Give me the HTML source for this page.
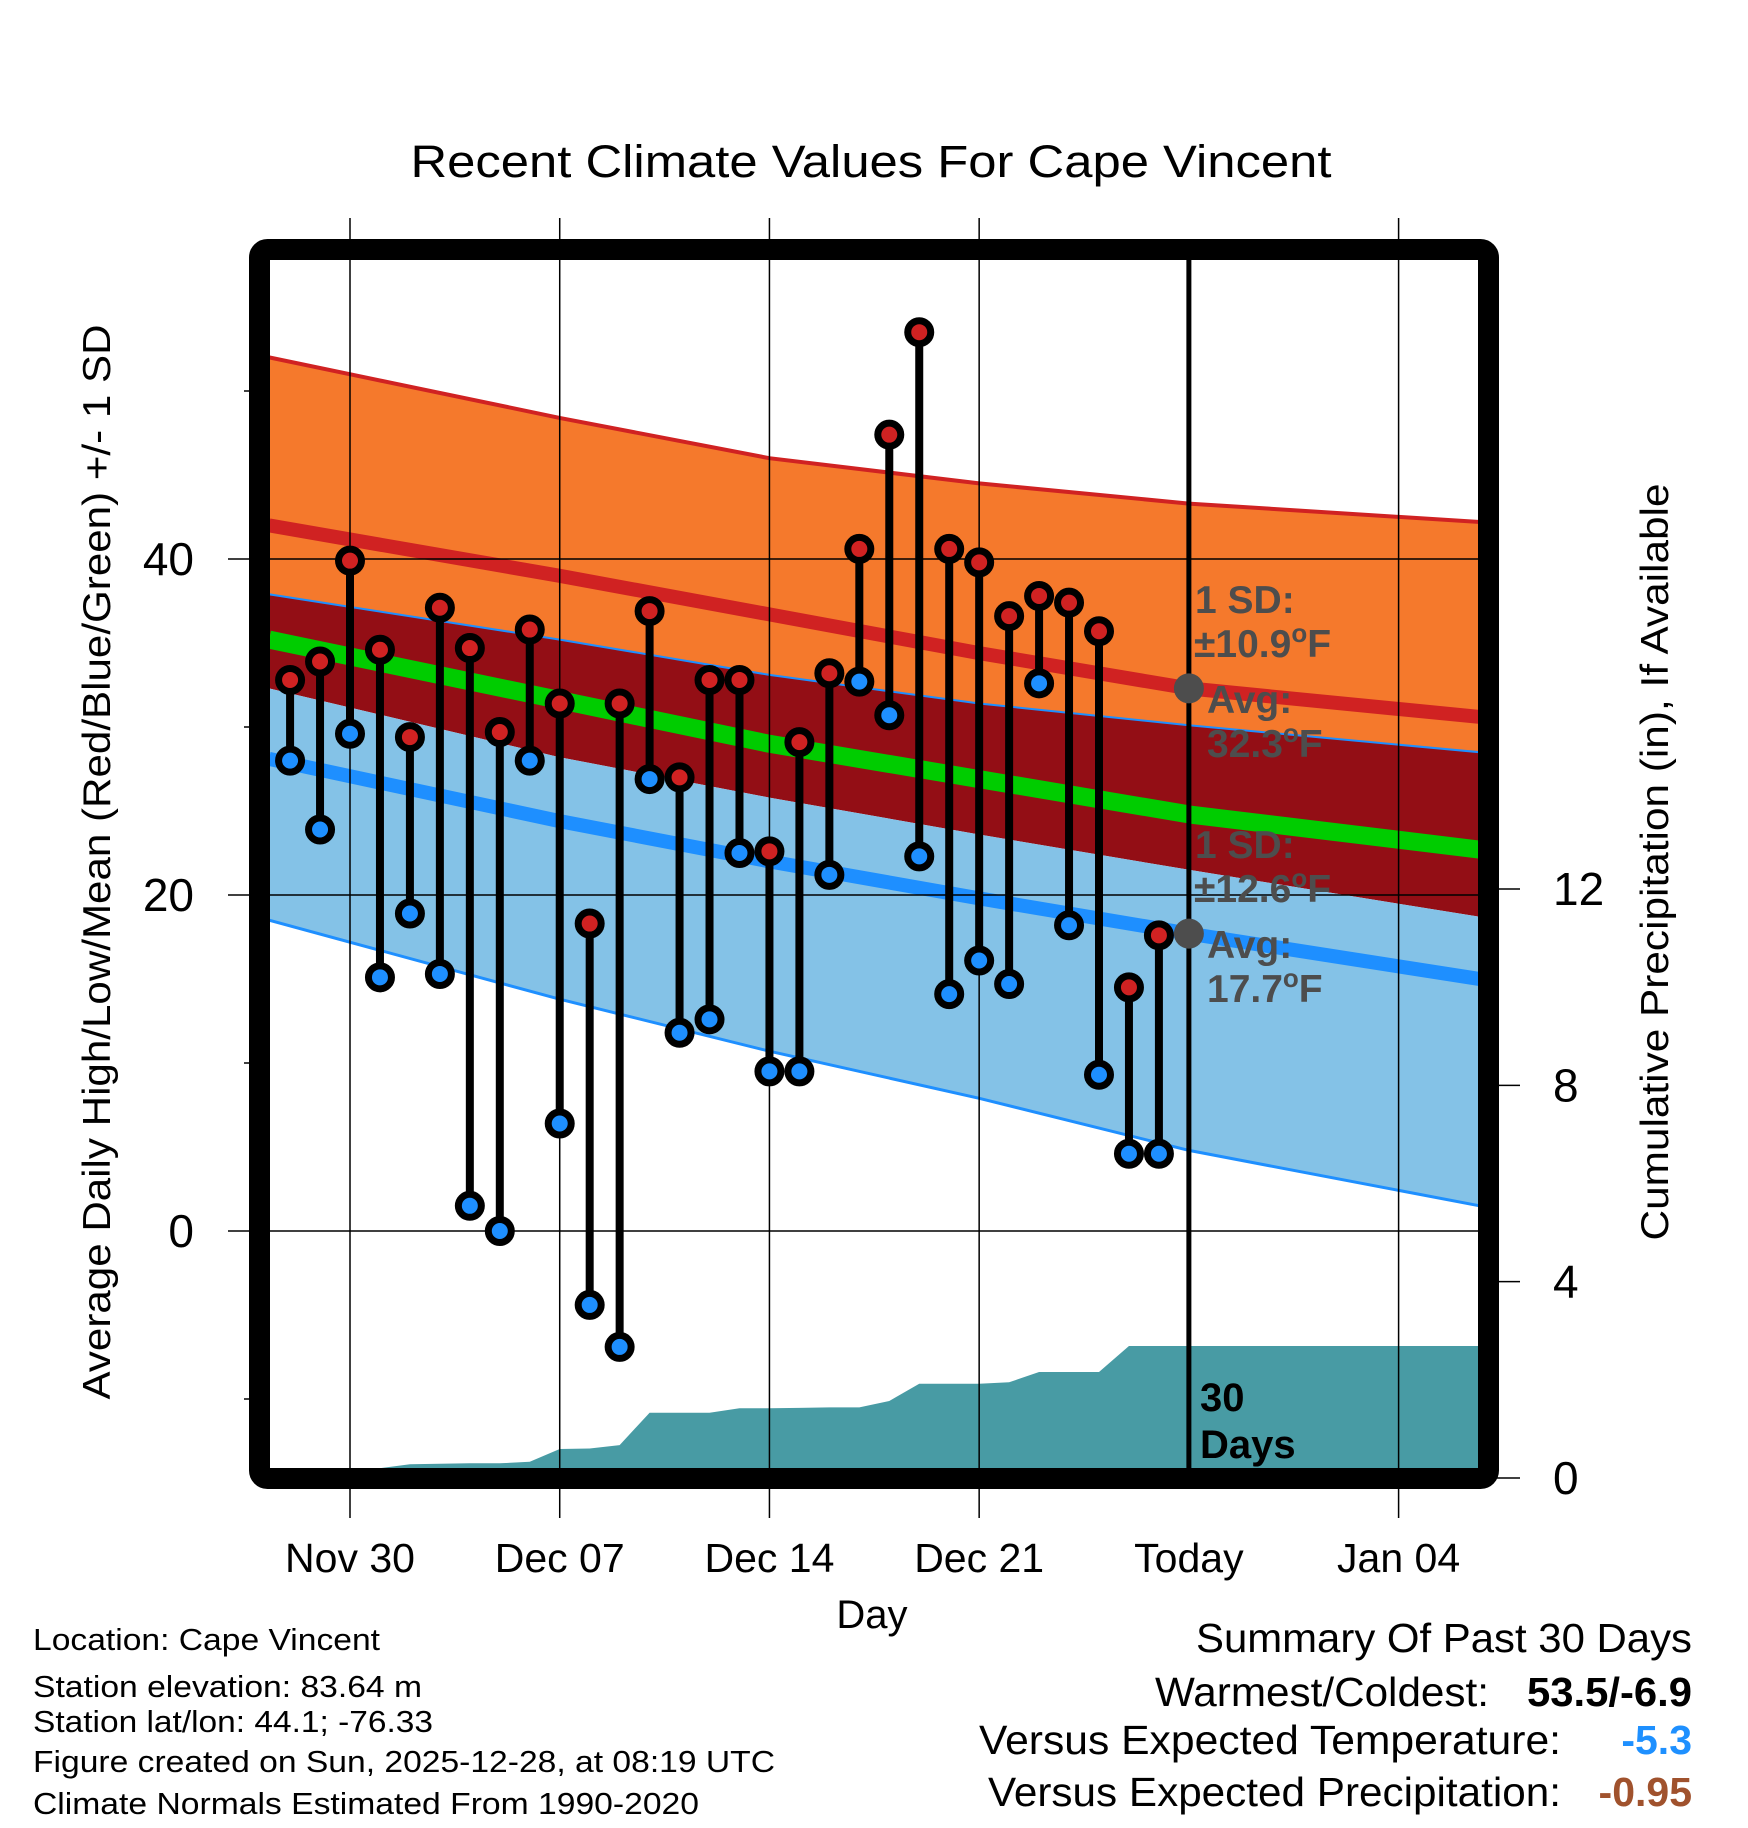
<!DOCTYPE html>
<html><head><meta charset="utf-8"><title>Recent Climate Values For Cape Vincent</title>
<style>html,body{margin:0;padding:0;background:#fff}svg{display:block}text{font-family:"Liberation Sans",Arial,sans-serif}</style></head>
<body>
<svg id="chart" width="1748" height="1828" viewBox="0 0 1748 1828" xmlns="http://www.w3.org/2000/svg">
<defs><clipPath id="plotclip"><rect x="270" y="260" width="1208" height="1208"/></clipPath></defs>
<text x="871" y="177" font-size="45" text-anchor="middle" textLength="921" lengthAdjust="spacingAndGlyphs">Recent Climate Values For Cape Vincent</text>
<g id="fills" clip-path="url(#plotclip)"></g>
<g id="grid"></g>
<g id="series" clip-path="url(#plotclip)"></g>
<g id="annot"></g>
<rect x="259.5" y="249.5" width="1229" height="1229" rx="8" fill="none" stroke="#000" stroke-width="21"/>
<g id="axes"></g>
<text transform="translate(110,862) rotate(-90)" font-size="39" text-anchor="middle" textLength="1075" lengthAdjust="spacingAndGlyphs">Average Daily High/Low/Mean (Red/Blue/Green) +/- 1 SD</text>
<text transform="translate(1668,862) rotate(-90)" font-size="39" text-anchor="middle" textLength="757" lengthAdjust="spacingAndGlyphs">Cumulative Precipitation (in), If Available</text>
<text x="872" y="1628" font-size="40" text-anchor="middle">Day</text>
<g font-size="31">
<text x="33" y="1650" textLength="347" lengthAdjust="spacingAndGlyphs">Location: Cape Vincent</text>
<text x="33" y="1697" textLength="389" lengthAdjust="spacingAndGlyphs">Station elevation: 83.64 m</text>
<text x="33" y="1732" textLength="400" lengthAdjust="spacingAndGlyphs">Station lat/lon: 44.1; -76.33</text>
<text x="33" y="1772" textLength="742" lengthAdjust="spacingAndGlyphs">Figure created on Sun, 2025-12-28, at 08:19 UTC</text>
<text x="33" y="1814" textLength="666" lengthAdjust="spacingAndGlyphs">Climate Normals Estimated From 1990-2020</text>
</g>
<g font-size="41">
<text x="1692" y="1652" text-anchor="end" textLength="496" lengthAdjust="spacingAndGlyphs">Summary Of Past 30 Days</text>
<text x="1489" y="1706" text-anchor="end" textLength="334" lengthAdjust="spacingAndGlyphs">Warmest/Coldest:</text>
<text x="1692" y="1706" text-anchor="end" font-weight="bold" textLength="165" lengthAdjust="spacingAndGlyphs">53.5/-6.9</text>
<text x="1561" y="1754" text-anchor="end" textLength="582" lengthAdjust="spacingAndGlyphs">Versus Expected Temperature:</text>
<text x="1692" y="1754" text-anchor="end" font-weight="bold" fill="#1e90ff">-5.3</text>
<text x="1561" y="1806" text-anchor="end" textLength="573" lengthAdjust="spacingAndGlyphs">Versus Expected Precipitation:</text>
<text x="1692" y="1806" text-anchor="end" font-weight="bold" fill="#a0522d">-0.95</text>
</g>
</svg>
<script>
// ---- data ----
const dayOffsets = [-2,-1,0,1,2,3,4,5,6,7,8,9,10,11,12,13,14,15,16,17,18,19,20,21,22,23,24,25,26,27];
const highs = [32.8,33.9,39.9,34.6,29.4,37.1,34.7,29.7,35.8,31.4,18.3,31.4,36.9,27.0,32.8,32.8,22.6,29.1,33.2,40.6,47.4,53.5,40.6,39.8,36.6,37.8,37.4,35.7,14.5,17.6];
const lows = [28.0,23.9,29.6,15.1,18.9,15.3,1.5,0.0,28.0,6.4,-4.4,-6.9,26.9,11.8,12.6,22.5,9.5,9.5,21.2,32.7,30.7,22.3,14.1,16.1,14.7,32.6,18.2,9.3,4.6,4.6];
const precip = [0,0,0,0.2,0.28,0.29,0.3,0.3,0.33,0.59,0.6,0.67,1.33,1.33,1.33,1.42,1.42,1.43,1.44,1.44,1.57,1.92,1.92,1.92,1.95,2.16,2.16,2.16,2.69,2.69];
const normDays = [-2.7,7,14,21,28,37.7];
const sdHighTop = [52.0,48.4,46.0,44.5,43.3,42.2];
const avgHigh = [42.0,39.0,36.7,34.4,32.3,30.6];
const sdLowTop = [37.9,35.2,33.1,31.4,30.1,28.5];
const avgMean = [35.2,31.6,29.0,26.9,24.8,22.7];
const sdHighBottom = [32.3,28.2,25.8,23.6,21.5,18.7];
const avgLow = [28.1,24.4,22.0,19.8,17.7,15.0];
const sdLowBottom = [18.5,13.8,10.7,7.9,4.8,1.5];
const xTickDays = [0,7,14,21,28,35];
const xTickLabels = ["Nov 30","Dec 07","Dec 14","Dec 21","Today","Jan 04"];
const yTicks = [0,20,40];
const yMinor = [-10,10,30,50];
const pTicks = [0,4,8,12];

// ---- scales ----
const X = d => 350 + d*29.96;
const Y = v => 1231 - v*16.8;
const P = p => 1478 - p*49.08;
const NS = "http://www.w3.org/2000/svg";
function mk(tag, attrs, parent){const e=document.createElementNS(NS,tag);for(const k in attrs)e.setAttribute(k,attrs[k]);parent.appendChild(e);return e;}
const pts = arr => normDays.map((d,i)=>X(d).toFixed(1)+","+Y(arr[i]).toFixed(1));
const band = (a,b) => pts(a).concat(pts(b).reverse()).join(" ");
const fills = document.getElementById("fills");
const grid = document.getElementById("grid");
const series = document.getElementById("series");
const axes = document.getElementById("axes");
const annot = document.getElementById("annot");

let e;
e = mk("polygon",{points:band(sdHighTop,sdLowTop),fill:"#f5792c"},fills);


e = mk("polygon",{points:band(sdLowTop,sdHighBottom),fill:"#930e15"},fills);


e = mk("polygon",{points:band(sdHighBottom,sdLowBottom),fill:"#84c2e7"},fills);


const pp = [X(-3)+","+P(0)];
dayOffsets.forEach((d,i)=>pp.push(X(d)+","+P(precip[i])));
pp.push(X(40)+","+P(precip[precip.length-1]));
pp.push(X(40)+","+P(0));
e = mk("polygon",{points:pp.join(" "),fill:"#489ba4"},fills);


e = mk("polyline",{points:pts(sdHighTop).join(" "),fill:"none",stroke:"#d02222","stroke-width":4},fills);


e = mk("polyline",{points:pts(sdLowTop).join(" "),fill:"none",stroke:"#1e8fff","stroke-width":2},fills);


e = mk("polyline",{points:pts(sdLowBottom).join(" "),fill:"none",stroke:"#1e8fff","stroke-width":3},fills);


e = mk("polyline",{points:pts(avgHigh).join(" "),fill:"none",stroke:"#d02222","stroke-width":14,"stroke-linejoin":"round"},fills);


e = mk("polyline",{points:pts(avgMean).join(" "),fill:"none",stroke:"#00cc00","stroke-width":18,"stroke-linejoin":"round"},fills);


e = mk("polyline",{points:pts(avgLow).join(" "),fill:"none",stroke:"#1e8fff","stroke-width":14,"stroke-linejoin":"round"},fills);



xTickDays.forEach((d,i)=>{
  const g = mk("line",{x1:X(d),x2:X(d),y1:218,y2:1518,stroke:"#000","stroke-width":d===28?0:1.5},grid);
  
  
  const t = mk("text",{x:X(d),y:1572,"font-size":41,"text-anchor":"middle"},axes);
  t.textContent = xTickLabels[i];
  
  
});
yTicks.forEach(v=>{
  const g = mk("line",{x1:228,x2:1478,y1:Y(v),y2:Y(v),stroke:"#000","stroke-width":1.5},grid);
  
  
  const t = mk("text",{x:194,y:Y(v)+16,"font-size":46,"text-anchor":"end"},axes);
  t.textContent = v;
  
  
});
yMinor.forEach(v=>{
  const g = mk("line",{x1:244,x2:260,y1:Y(v),y2:Y(v),stroke:"#000","stroke-width":1.5},axes);
  
  
});
pTicks.forEach(v=>{
  const g = mk("line",{x1:1490,x2:1520,y1:P(v),y2:P(v),stroke:"#000","stroke-width":1.5},axes);
  
  
  const t = mk("text",{x:1553,y:P(v)+16,"font-size":46,"text-anchor":"start"},axes);
  t.textContent = v;
  
  
});

e = mk("line",{x1:X(28),x2:X(28),y1:255,y2:1472,stroke:"#000","stroke-width":5},annot);



dayOffsets.forEach((d,i)=>{
  const s = mk("line",{x1:X(d),x2:X(d),y1:Y(highs[i]),y2:Y(lows[i]),stroke:"#000","stroke-width":8},series);
  
  
});
dayOffsets.forEach((d,i)=>{
  const lo = mk("circle",{cx:X(d),cy:Y(lows[i]),r:11.5,fill:"#1e8fff",stroke:"#000","stroke-width":7},series);
  
  
  const hi = mk("circle",{cx:X(d),cy:Y(highs[i]),r:11.5,fill:"#d02222",stroke:"#000","stroke-width":7},series);
  
  
});

function label(txt,x,y,name,fill,size){const t=mk("text",{x:x,y:y,"font-size":size||39,"font-weight":"bold",fill:fill||"#4d4d4d"},annot);t.innerHTML=txt;return t;}
const today = X(28);
e = mk("circle",{cx:today,cy:Y(avgHigh[4]),r:15,fill:"#4d4d4d"},annot);


e = mk("circle",{cx:today,cy:Y(avgLow[4]),r:15,fill:"#4d4d4d"},annot);


label("1 SD:",1195,613,"high-sd-label");
label("±10.9<tspan font-size='26' dy='-15'>o</tspan><tspan dy='15'>F</tspan>",1194,657,"high-sd-value");
label("Avg:",1207,713,"high-avg-label");
label("32.3<tspan font-size='26' dy='-15'>o</tspan><tspan dy='15'>F</tspan>",1207,757,"high-avg-value");
label("1 SD:",1195,858,"low-sd-label");
label("±12.6<tspan font-size='26' dy='-15'>o</tspan><tspan dy='15'>F</tspan>",1194,902,"low-sd-value");
label("Avg:",1207,958,"low-avg-label");
label("17.7<tspan font-size='26' dy='-15'>o</tspan><tspan dy='15'>F</tspan>",1207,1002,"low-avg-value");
label("30",1200,1411,"days-count-label","#000",40);
label("Days",1200,1458,"days-word-label","#000",40);
</script>
</body></html>
